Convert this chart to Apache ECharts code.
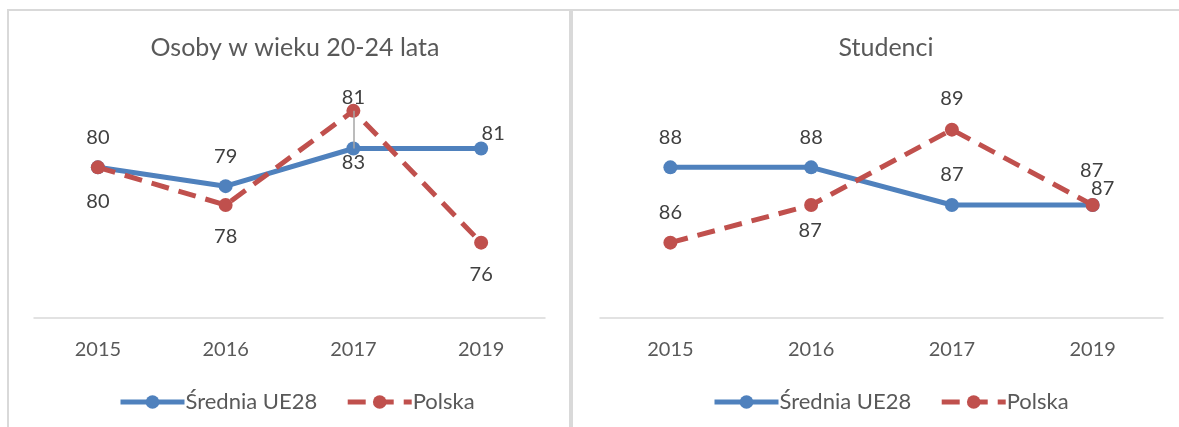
<!DOCTYPE html>
<html>
<head>
<meta charset="utf-8">
<script src="https://cdn.jsdelivr.net/npm/echarts@6/dist/echarts.min.js"></script>
<style>
  html, body { margin: 0; padding: 0; background: #fff; }
  #chart { width: 1179px; height: 427px; }
</style>
</head>
<body>
<div id="chart"></div>
<script>
// dane
const years = ['2015', '2016', '2017', '2019']
const seriesNames = ['Średnia UE28', 'Polska']
const titles = ['Osoby w wieku 20-24 lata', 'Studenci']
const osobyUE = [80, 79, 81, 81]
const osobyPL = [80, 78, 83, 76]
const studenciUE = [88, 88, 87, 87]
const studenciPL = [86, 87, 89, 87]

const blue = '#4f81bd'
const red = '#c0504d'
const font = 'Lato'

// przesuniecia etykiet (jak w oryginale z Excela)
const offOsobyUE = [[0, -30], [0, -30], [0, -51], [12, -15]]
const offOsobyPL = [[0, 34], [0, 32], [0, 52], [0, 32]]
const offStudUE = [[0, -30], [0, -30], [0, -30], [-1, -34]]
const offStudPL = [[0, -30], [-1, 26], [0, -31], [10, -16]]

function withLabels (values, offsets) {
  return values.map(function (v, i) {
    return { value: v, label: { offset: offsets[i] } }
  })
}

function lineSeries (name, values, offsets, idx, color, dashed) {
  return {
    name: name,
    type: 'line',
    xAxisIndex: idx,
    yAxisIndex: idx,
    symbol: 'circle',
    symbolSize: 14,
    itemStyle: { color: color },
    lineStyle: { color: color, width: 5, type: dashed ? [18, 10] : 'solid', cap: 'butt' },
    label: {
      show: true,
      position: 'inside',
      color: '#404040',
      fontFamily: font,
      fontSize: 20
    },
    emphasis: { disabled: true },
    z: dashed ? 3 : 2,
    data: withLabels(values, offsets)
  }
}

const gridDefs = [
  { left: 34, width: 511, top: 92, height: 226 },
  { left: 600, width: 563, top: 92, height: 226 }
]

const xAxes = gridDefs.map(function (g, i) {
  return {
    type: 'category',
    gridIndex: i,
    data: years,
    boundaryGap: true,
    axisLine: { lineStyle: { color: '#d9d9d9', width: 1.5 } },
    axisTick: { show: false },
    axisLabel: { color: '#595959', fontFamily: font, fontSize: 20, margin: 22 }
  }
})

const yAxes = [
  { type: 'value', gridIndex: 0, min: 72, max: 84, show: false },
  { type: 'value', gridIndex: 1, min: 84, max: 90, show: false }
]

const seriesOsobyUE = lineSeries(seriesNames[0], osobyUE, offOsobyUE, 0, blue, false)
// linia odniesienia etykiety 2017
seriesOsobyUE.markLine = {
  silent: true,
  symbol: 'none',
  label: { show: false },
  lineStyle: { color: '#a6a6a6', width: 1.5, type: 'solid' },
  data: [[{ coord: [years[2], osobyPL[2]] }, { coord: [years[2], osobyUE[2]] }]]
}

const legendBase = {
  itemWidth: 64,
  itemHeight: 17,
  itemGap: 28,
  lineStyle: { width: 5 },
  textStyle: { color: '#595959', fontFamily: font, fontSize: 22, padding: [0, 0, 0, -4] },
  data: seriesNames
}

const titleStyle = { color: '#595959', fontFamily: font, fontSize: 25, fontWeight: 'normal' }

const option = {
  animation: false,
  title: [
    { text: titles[0], left: 290, top: 30, textAlign: 'center', textStyle: titleStyle },
    { text: titles[1], left: 881, top: 30, textAlign: 'center', textStyle: titleStyle }
  ],
  legend: [
    Object.assign({ left: 113, top: 386 }, legendBase),
    Object.assign({ left: 707, top: 386 }, legendBase)
  ],
  grid: gridDefs,
  xAxis: xAxes,
  yAxis: yAxes,
  graphic: [
    { type: 'rect', shape: { x: 7, y: 9, width: 1172, height: 2 }, style: { fill: '#d9d9d9' }, silent: true },
    { type: 'rect', shape: { x: 7, y: 9, width: 2, height: 418 }, style: { fill: '#d9d9d9' }, silent: true },
    { type: 'rect', shape: { x: 569, y: 9, width: 4, height: 418 }, style: { fill: '#d9d9d9' }, silent: true }
  ],
  series: [
    seriesOsobyUE,
    lineSeries(seriesNames[1], osobyPL, offOsobyPL, 0, red, true),
    lineSeries(seriesNames[0], studenciUE, offStudUE, 1, blue, false),
    lineSeries(seriesNames[1], studenciPL, offStudPL, 1, red, true)
  ]
}

const myChart = echarts.init(document.getElementById('chart'))
myChart.setOption(option)
</script>
</body>
</html>
